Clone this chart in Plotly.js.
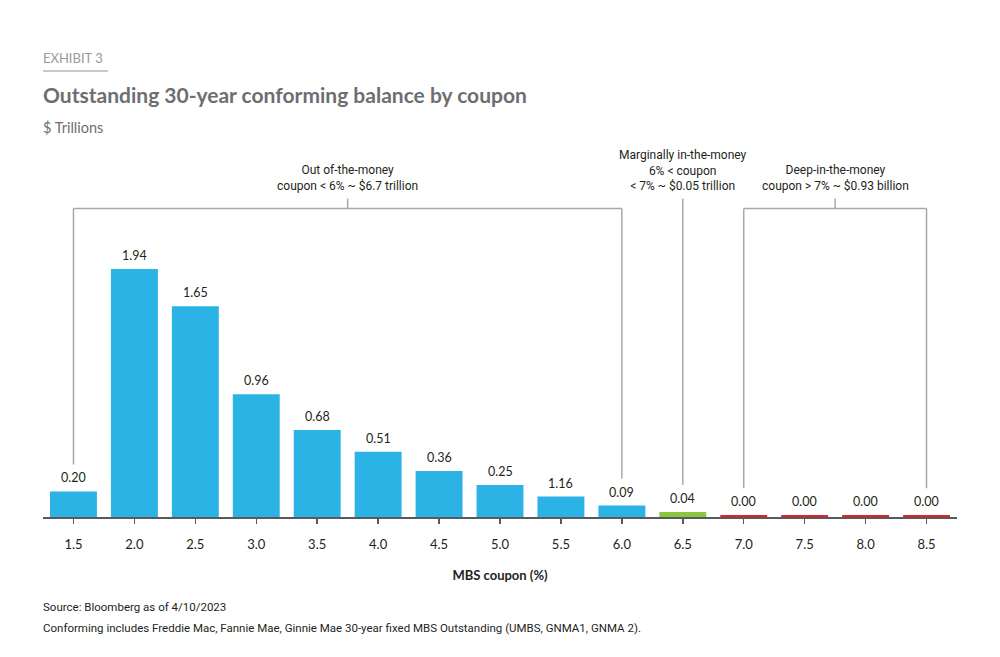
<!DOCTYPE html>
<html>
<head>
<meta charset="utf-8">
<script src="https://cdn.plot.ly/plotly-3.0.1.min.js"></script>
<style>
  body { margin: 0; background: #fff; }
  #chart { width: 1000px; height: 657px; }
</style>
</head>
<body>
<div id="chart"></div>
<script>
// coupons and outstanding balance ($ trillions)
const coupons = [1.5, 2.0, 2.5, 3.0, 3.5, 4.0, 4.5, 5.0, 5.5, 6.0, 6.5, 7.0, 7.5, 8.0, 8.5];
const balances = [0.20, 1.94, 1.65, 0.96, 0.68, 0.51, 0.36, 0.25, 0.16, 0.09, 0.04, 0.015, 0.015, 0.015, 0.015];
// labels as printed on the chart (5.5 is printed as 1.16)
const valueLabels = ['0.20', '1.94', '1.65', '0.96', '0.68', '0.51', '0.36', '0.25', '1.16', '0.09', '0.04', '0.00', '0.00', '0.00', '0.00'];
const barGroups = ['out', 'out', 'out', 'out', 'out', 'out', 'out', 'out', 'out', 'out', 'marginal', 'deep', 'deep', 'deep', 'deep'];

// brackets over the groups
const groupNames = ['out', 'marginal', 'deep'];
const groupLabels = [
    'Out of-the-money<br>coupon < 6% ~ $6.7 trillion',
    'Marginally in-the-money<br>6% < coupon<br>< 7% ~ $0.05 trillion',
    'Deep-in-the-money<br>coupon > 7% ~ $0.93 billion'
];
const groupStart = [1.5, 6.5, 7.0];
const groupEnd = [6.0, 6.5, 8.5];

const COLORS = { out: '#2bb3e6', marginal: '#8cc63f', deep: '#e0202b' };
const LINE = '#a7a9ac';
const BR_Y = 2.414;   // bracket bar height
const BR_TOP = 2.492; // center tick top
const LEG_GAP = 0.21; // gap between leg end and bar top

function valueAt(x) {
    return balances[coupons.indexOf(x)];
}

const shapes = [];
const annotations = [];

groupNames.forEach((g, i) => {
    const a = groupStart[i], b = groupEnd[i];
    const mid = (a + b) / 2;
    const line = { color: LINE, width: 1.5 };
    if (a !== b) {
        shapes.push({ type: 'line', xref: 'x', yref: 'y', x0: a, x1: b, y0: BR_Y, y1: BR_Y, line: line });
        shapes.push({ type: 'line', xref: 'x', yref: 'y', x0: mid, x1: mid, y0: BR_Y, y1: BR_TOP, line: line });
    }
    coupons.filter(c => c === a || c === b).forEach(c => {
        shapes.push({ type: 'line', xref: 'x', yref: 'y', x0: c, x1: c,
            y0: valueAt(c) + LEG_GAP, y1: a === b ? BR_TOP : BR_Y, line: line });
    });
    annotations.push({
        xref: 'x', yref: 'y', x: mid, y: BR_TOP, yanchor: 'bottom', yshift: 4,
        text: groupLabels[i], showarrow: false, align: 'center',
        font: { family: 'Liberation Sans Narrow, Roboto, sans-serif', size: 12, color: '#231f20' }
    });
});

coupons.forEach((c, i) => {
    annotations.push({
        xref: 'x', yref: 'y', x: c, y: balances[i], yanchor: 'bottom', yshift: 4,
        text: valueLabels[i], showarrow: false,
        font: { family: 'Lato, sans-serif', size: 12.5, color: '#231f20' }
    });
});

// header and footer text
const headerFont = 'Lato, sans-serif';
annotations.push(
    { xref: 'paper', yref: 'paper', x: 0, xanchor: 'left', xshift: -2, y: 1, yanchor: 'middle', yshift: 190 - 58,
      text: 'EXHIBIT 3', showarrow: false, font: { family: headerFont, size: 13, color: '#9a9a9a' } },
    { xref: 'paper', yref: 'paper', x: 0, xanchor: 'left', xshift: -2, y: 1, yanchor: 'middle', yshift: 190 - 94,
      text: '<b>Outstanding 30-year conforming balance by coupon</b>', showarrow: false,
      font: { family: headerFont, size: 21, color: '#6d6e71' } },
    { xref: 'paper', yref: 'paper', x: 0, xanchor: 'left', xshift: -2, y: 1, yanchor: 'middle', yshift: 190 - 127,
      text: '$ Trillions', showarrow: false, font: { family: headerFont, size: 14.5, color: '#6d6e71' } },
    { xref: 'paper', yref: 'paper', x: 0, xanchor: 'left', xshift: -2, y: 0, yanchor: 'middle', yshift: -(607 - 517),
      text: 'Source: Bloomberg as of 4/10/2023', showarrow: false,
      font: { family: 'Liberation Sans Narrow, Roboto, sans-serif', size: 11.5, color: '#231f20' } },
    { xref: 'paper', yref: 'paper', x: 0, xanchor: 'left', xshift: -2, y: 0, yanchor: 'middle', yshift: -(628 - 517),
      text: 'Conforming includes Freddie Mac, Fannie Mae, Ginnie Mae 30-year fixed MBS Outstanding (UMBS, GNMA1, GNMA 2).',
      showarrow: false, font: { family: 'Liberation Sans Narrow, Roboto, sans-serif', size: 11.5, color: '#231f20' } }
);

// exhibit underline
shapes.push({ type: 'line', xref: 'paper', yref: 'paper', x0: 0, x1: 65 / 914, y0: 1 + (190 - 71) / 327, y1: 1 + (190 - 71) / 327,
    line: { color: '#c8c8c8', width: 2 } });

const trace = {
    type: 'bar',
    x: coupons,
    y: balances,
    marker: { color: barGroups.map(g => COLORS[g]) },
    hoverinfo: 'x+y'
};

const layout = {
    width: 1000,
    height: 657,
    margin: { l: 43, r: 43, t: 190, b: 140 },
    paper_bgcolor: '#fff',
    plot_bgcolor: '#fff',
    showlegend: false,
    bargap: 0.23,
    font: { family: 'Lato, sans-serif', color: '#231f20' },
    xaxis: {
        range: [1.25, 8.75],
        tickvals: coupons,
        ticktext: coupons.map(c => c.toFixed(1)),
        ticks: 'outside',
        ticklen: 5,
        tickwidth: 1.5,
        tickcolor: '#58595b',
        ticklabelstandoff: 10,
        showline: true,
        linecolor: '#58595b',
        linewidth: 1.5,
        showgrid: false,
        zeroline: false,
        tickfont: { family: 'Lato, sans-serif', size: 13, color: '#231f20' },
        title: { text: '<b>MBS coupon (%)</b>', font: { family: 'Lato, sans-serif', size: 13, color: '#231f20' }, standoff: 20 }
    },
    yaxis: {
        range: [0, 2.559],
        visible: false,
        showgrid: false,
        zeroline: false
    },
    shapes: shapes,
    annotations: annotations
};

Plotly.newPlot('chart', [trace], layout, { displayModeBar: false, staticPlot: true });
</script>
</body>
</html>
